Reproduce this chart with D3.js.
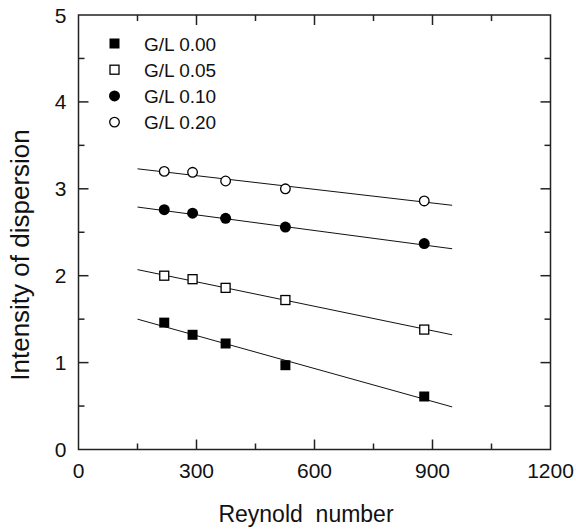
<!DOCTYPE html>
<html>
<head>
<meta charset="utf-8">
<script src="https://cdn.jsdelivr.net/npm/d3@7"></script>
<style>
body { margin:0; background:#fff; }
text { font-family: "Liberation Sans", Arial, sans-serif; fill:#111; }
</style>
</head>
<body>
<svg id="chart" width="576" height="529"></svg>
<script>
// reynold numbers (same for every series)
var reynold = [218, 290, 374, 526, 879]
var seriesNames = ["G/L 0.00", "G/L 0.05", "G/L 0.10", "G/L 0.20"]
var gl000 = [1.46, 1.32, 1.22, 0.97, 0.61]
var gl005 = [2.00, 1.96, 1.86, 1.72, 1.38]
var gl010 = [2.76, 2.72, 2.66, 2.56, 2.37]
var gl020 = [3.20, 3.19, 3.09, 3.00, 2.86]
// fitted lines, read at both ends
var fitX = [150, 950]
var fit000 = [1.50, 0.49]
var fit005 = [2.07, 1.32]
var fit010 = [2.79, 2.31]
var fit020 = [3.23, 2.81]
var xTicks = [0, 300, 600, 900, 1200]
var xMinor = [150, 450, 750, 1050]
var yTicks = [0, 1, 2, 3, 4, 5]
var yMinor = [0.5, 1.5, 2.5, 3.5, 4.5]

var series = [
	{name: seriesNames[0], y: gl000, fit: fit000, shape: "square", fill: true},
	{name: seriesNames[1], y: gl005, fit: fit005, shape: "square", fill: false},
	{name: seriesNames[2], y: gl010, fit: fit010, shape: "circle", fill: true},
	{name: seriesNames[3], y: gl020, fit: fit020, shape: "circle", fill: false}
]

var svg = d3.select("#chart")
var pLeft = 78.5, pRight = 550.5, pTop = 15, pBottom = 449.5
var x = d3.scaleLinear().domain([0, 1200]).range([pLeft, pRight])
var y = d3.scaleLinear().domain([0, 5]).range([pBottom, pTop])
var axisColor = "#222"

// frame
svg.append("rect")
	.attr("x", pLeft).attr("y", pTop)
	.attr("width", pRight - pLeft).attr("height", pBottom - pTop)
	.attr("fill", "none").attr("stroke", axisColor).attr("stroke-width", 1.5)

function drawXTicks(vals, len) {
	// bottom + top, pointing inward
	vals.forEach(function(v){
		svg.append("line").attr("x1", x(v)).attr("x2", x(v))
			.attr("y1", pBottom).attr("y2", pBottom - len)
			.attr("stroke", axisColor).attr("stroke-width", 1.5)
		svg.append("line").attr("x1", x(v)).attr("x2", x(v))
			.attr("y1", pTop).attr("y2", pTop + len)
			.attr("stroke", axisColor).attr("stroke-width", 1.5)
	})
}
function drawYTicks(vals, len) {
	vals.forEach(function(v){
		svg.append("line").attr("x1", pLeft).attr("x2", pLeft + len)
			.attr("y1", y(v)).attr("y2", y(v))
			.attr("stroke", axisColor).attr("stroke-width", 1.5)
		svg.append("line").attr("x1", pRight).attr("x2", pRight - len)
			.attr("y1", y(v)).attr("y2", y(v))
			.attr("stroke", axisColor).attr("stroke-width", 1.5)
	})
}
drawXTicks(xTicks.slice(1, -1), 10)
drawXTicks(xMinor, 6)
drawYTicks(yTicks.slice(1, -1), 10)
drawYTicks(yMinor, 6)

// tick labels
svg.selectAll(".xlab").data(xTicks).enter().append("text")
	.attr("x", function(d){ return x(d) }).attr("y", pBottom + 28)
	.attr("text-anchor", "middle").style("font-size", "21px")
	.text(function(d){ return d })
svg.selectAll(".ylab").data(yTicks).enter().append("text")
	.attr("x", pLeft - 12).attr("y", function(d){ return y(d) + 7.5 })
	.attr("text-anchor", "end").style("font-size", "21px")
	.text(function(d){ return d })

// axis titles
svg.append("text").attr("x", 306).attr("y", 522)
	.attr("text-anchor", "middle").style("font-size", "23px")
	.attr("xml:space", "preserve").style("white-space", "pre")
	.text("Reynold  number")
svg.append("text")
	.attr("transform", "translate(29,255) rotate(-90)")
	.attr("text-anchor", "middle").style("font-size", "26px")
	.text("Intensity of dispersion")

// fit lines
var line = d3.line().x(function(d){ return x(d[0]) }).y(function(d){ return y(d[1]) })
series.forEach(function(s){
	svg.append("path")
		.attr("d", line(fitX.map(function(v, i){ return [v, s.fit[i]] })))
		.attr("fill", "none").attr("stroke", "#111").attr("stroke-width", 1)
})

function marker(g, s, cx, cy) {
	if (s.shape == "square") {
		var sz = s.fill ? 10 : 9
		g.append("rect").attr("x", cx - sz/2).attr("y", cy - sz/2)
			.attr("width", sz).attr("height", sz)
			.attr("fill", s.fill ? "#000" : "#fff")
			.attr("stroke", "#000").attr("stroke-width", s.fill ? 0 : 1.3)
	} else {
		g.append("circle").attr("cx", cx).attr("cy", cy)
			.attr("r", s.fill ? 5.5 : 4.8)
			.attr("fill", s.fill ? "#000" : "#fff")
			.attr("stroke", "#000").attr("stroke-width", s.fill ? 0 : 1.3)
	}
}

// points
series.forEach(function(s){
	reynold.forEach(function(r, i){
		marker(svg, s, x(r), y(s.y[i]))
	})
})

// legend
series.forEach(function(s, i){
	var ly = 43.5 + i * 26.2
	marker(svg, s, 114.5, ly)
	svg.append("text").attr("x", 144).attr("y", ly + 7)
		.style("font-size", "19px").text(s.name)
})
</script>
</body>
</html>
